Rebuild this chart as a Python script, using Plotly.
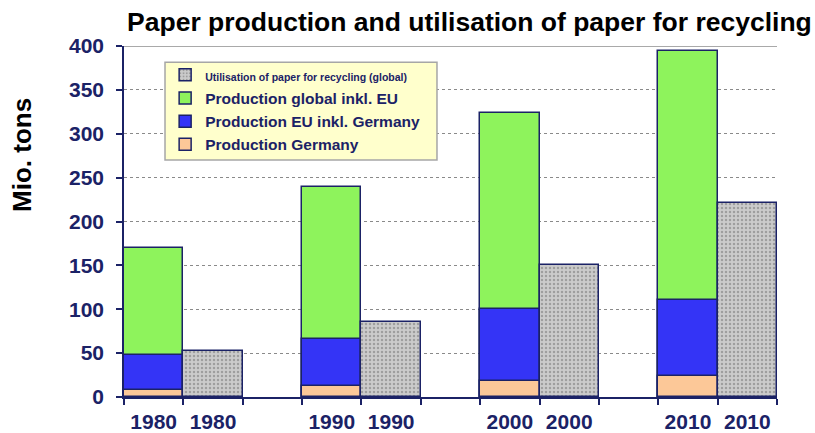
import plotly.graph_objects as go

# Paper statistics in million tons
years = ["1980", "1990", "2000", "2010"]
prod_global = [170, 239, 324, 394]
prod_eu = [48, 66, 100, 110]
prod_germany = [8, 13, 18, 24]
recycling_global = [52, 85, 150, 221]
y_ticks = [0, 50, 100, 150, 200, 250, 300, 350, 400]

NAVY = "#1b2266"
FONT = "Liberation Sans, Arial, sans-serif"

# each year occupies a slot of three units: production bar, recycling bar, gap
prod_x = [i * 3 + 0.5 for i in range(len(years))]
rec_x = [i * 3 + 1.5 for i in range(len(years))]

outline = dict(color=NAVY, width=1.5)

fig = go.Figure()
fig.add_trace(go.Bar(
    x=prod_x, y=prod_global, width=1,
    name="Production global inkl. EU", legendrank=2,
    marker=dict(color="#8ef35c", line=outline),
))
fig.add_trace(go.Bar(
    x=prod_x, y=prod_eu, width=1,
    name="Production EU inkl. Germany", legendrank=3,
    marker=dict(color="#3434f6", line=outline),
))
fig.add_trace(go.Bar(
    x=prod_x, y=prod_germany, width=1,
    name="Production Germany", legendrank=4,
    marker=dict(color="#fcc898", line=outline),
))
fig.add_trace(go.Bar(
    x=rec_x, y=recycling_global, width=1,
    name="<span style='font-size:10.5px'>Utilisation of paper for recycling (global)</span>",
    legendrank=1,
    marker=dict(
        color="#c4c4c4", line=outline,
        pattern=dict(shape=".", bgcolor="#cbcbcb", fgcolor="#707070",
                     size=4, solidity=0.3, fillmode="overlay"),
    ),
))

# legend panel
fig.add_shape(type="rect", xref="paper", yref="paper",
              x0=0.0628, x1=0.4793, y0=0.675, y1=0.954,
              fillcolor="#ffffcc", line=dict(color="#a6a6a6", width=1.5),
              layer="above")
# solid rule along the top of the value range
fig.add_shape(type="line", xref="paper", yref="y", x0=0, x1=1, y0=400, y1=400,
              line=dict(color="#8c8c8c", width=1.5))

fig.update_layout(
    width=815, height=433,
    margin=dict(l=124, r=38, t=46, b=36),
    barmode="overlay",
    bargap=0,
    plot_bgcolor="white",
    paper_bgcolor="white",
    font=dict(family=FONT, color=NAVY),
    title=dict(
        text="<b>Paper production and utilisation of paper for recycling</b>",
        font=dict(family=FONT, size=26.5, color="black"),
        x=0.576, xanchor="center", xref="container",
        y=0.95, yanchor="middle", yref="container",
        automargin=False,
    ),
    legend=dict(
        x=0.063, y=0.965, xanchor="left", yanchor="top",
        bgcolor="rgba(0,0,0,0)", borderwidth=0,
        font=dict(family=FONT, size=15.5, color=NAVY, weight="bold"),
        itemwidth=30, tracegroupgap=0,
    ),
    showlegend=True,
    xaxis=dict(
        range=[0, 11],
        automargin=False,
        tickmode="array",
        tickvals=prod_x + rec_x,
        ticktext=years + years,
        ticks="",
        tickfont=dict(family=FONT, size=21, color=NAVY, weight="bold"),
        showgrid=False,
        showline=True, linecolor=NAVY, linewidth=1.5,
        zeroline=False,
        ticklabelstandoff=5,
        minor=dict(tickmode="array", tickvals=list(range(12)),
                   ticks="outside", ticklen=6, tickcolor=NAVY, tickwidth=1.5,
                   showgrid=False),
    ),
    yaxis=dict(
        range=[0, 400],
        automargin=False,
        tickmode="array",
        tickvals=y_ticks,
        ticks="outside", ticklen=6, tickcolor=NAVY, tickwidth=1.5,
        tickfont=dict(family=FONT, size=21, color=NAVY, weight="bold"),
        showgrid=True, gridcolor="#8a8a8a", griddash="dot", gridwidth=1,
        showline=True, linecolor=NAVY, linewidth=1.5,
        zeroline=False,
        ticklabelstandoff=8,
    ),
    annotations=[dict(
        text="<b>Mio. tons</b>", textangle=-90,
        xref="paper", yref="paper", x=-0.1565, y=0.689,
        xanchor="center", yanchor="middle", showarrow=False,
        font=dict(family=FONT, size=26, color="black"),
    )],
)

fig.write_html("out.html")
